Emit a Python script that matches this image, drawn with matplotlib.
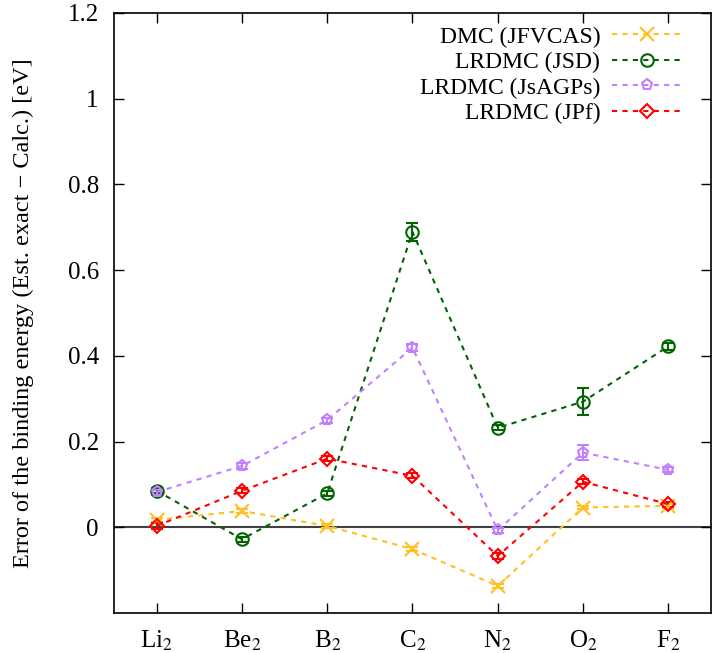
import numpy as np
import matplotlib.pyplot as plt

plt.rcParams['font.family'] = ['Liberation Serif', 'DejaVu Serif']
plt.rcParams['mathtext.fontset'] = 'stix'

# ====================== data ======================
molecules = ['Li$_2$', 'Be$_2$', 'B$_2$', 'C$_2$', 'N$_2$', 'O$_2$', 'F$_2$']

dmc_jfvcas = [0.017, 0.038, 0.003, -0.051, -0.137, 0.046, 0.050]
dmc_jfvcas_err = [0.004, 0.004, 0.004, 0.004, 0.004, 0.004, 0.004]

lrdmc_jsd = [0.085, -0.028, 0.079, 0.689, 0.232, 0.293, 0.422]
lrdmc_jsd_err = [0.006, 0.006, 0.006, 0.021, 0.006, 0.031, 0.008]

lrdmc_jsagps = [0.082, 0.143, 0.250, 0.419, -0.007, 0.174, 0.134]
lrdmc_jsagps_err = [0.006, 0.006, 0.006, 0.008, 0.006, 0.017, 0.006]

lrdmc_jpf = [0.003, 0.085, 0.160, 0.120, -0.067, 0.106, 0.054]
lrdmc_jpf_err = [0.006, 0.006, 0.006, 0.006, 0.006, 0.006, 0.006]

labels = ['DMC (JFVCAS)', 'LRDMC (JSD)', 'LRDMC (JsAGPs)', 'LRDMC (JPf)']
colors = ['#ffc020', '#006400', '#c080ff', '#ff0000']
markers = ['x', 'o', 'p', 'D']
msizes = [10, 9, 8, 7]

# ====================== plot ======================
fig = plt.figure(figsize=(7.13, 6.53), dpi=100)
ax = fig.add_axes([0.160, 0.0613, 0.837, 0.919])

ax.axhline(0, color='#404040', lw=1.5, zorder=1)

x = np.arange(len(molecules))
series = [(dmc_jfvcas, dmc_jfvcas_err), (lrdmc_jsd, lrdmc_jsd_err),
          (lrdmc_jsagps, lrdmc_jsagps_err), (lrdmc_jpf, lrdmc_jpf_err)]
for (vals, errs), lab, c, m, ms in zip(series, labels, colors, markers, msizes):
    ax.errorbar(x, vals, yerr=errs, color=c, ls=(0, (2.5, 2.5)), lw=1.5,
                marker=m, ms=ms, mfc='none', mec=c, mew=1.5,
                capsize=4, elinewidth=1.5, capthick=1.5, label=lab, zorder=3)

ax.set_xlim(-0.5, 6.5)
ax.set_ylim(-0.2, 1.2)
ax.set_xticks(x)
ax.set_xticklabels(molecules)
ax.set_yticks([0, 0.2, 0.4, 0.6, 0.8, 1.0, 1.2])
ax.set_yticklabels(['0', '0.2', '0.4', '0.6', '0.8', '1', '1.2'])
ax.tick_params(direction='in', top=True, right=True, length=7, width=1,
               labelsize=18, pad=11)
for s in ax.spines.values():
    s.set_linewidth(1.2)

ax.set_ylabel('Error of the binding energy (Est. exact \u2212 Calc.) [eV]',
              fontsize=17.5, labelpad=24)

handles, labs = ax.get_legend_handles_labels()
handles = [h[0] for h in handles]
ax.legend(handles, labs, loc='upper right', bbox_to_anchor=(0.953, 0.978),
          frameon=False, markerfirst=False, fontsize=17, handlelength=3.0,
          labelspacing=0.17, borderaxespad=0, borderpad=0, handletextpad=0.5)

plt.savefig('out.png', dpi=100)
